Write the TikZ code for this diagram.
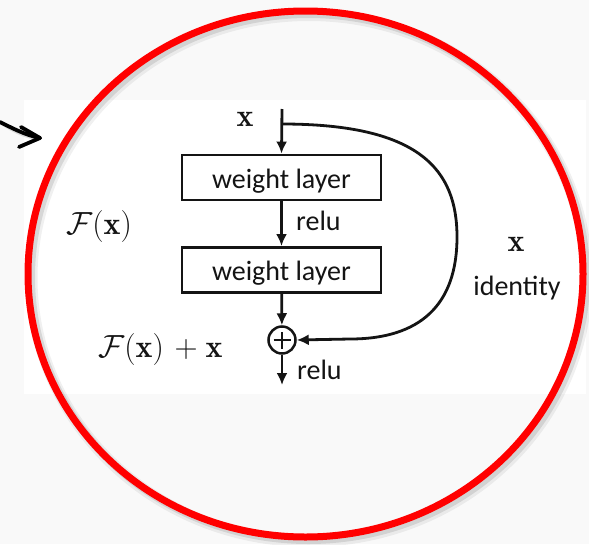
\RequirePackage{fix-cm}
\documentclass[tikz,border=0pt]{standalone}
\usepackage{fontspec}
\newfontfamily\calib{Carlito}
\usetikzlibrary{arrows.meta}
\definecolor{bggray}{RGB}{249,249,249}
\definecolor{ringred}{RGB}{255,0,0}
\definecolor{ink}{RGB}{20,20,20}
\begin{document}
\begin{tikzpicture}[x=1pt,y=-1pt,
  wbox/.style={draw=ink, line width=2.9pt, minimum width=199pt, inner xsep=0pt, inner ysep=0pt,
               text height=33pt, text depth=12pt, text=ink, font=\calib\fontsize{28}{33}\selectfont},
  sumc/.style={draw=ink, circle, line width=2.5pt, minimum size=27pt, inner sep=0pt},
  arr/.style={draw=ink, line width=2.8pt, -{Latex[length=12pt,width=11pt]}},
  sans/.style={font=\calib\fontsize{28}{33}\selectfont, text=ink, inner sep=0pt},
  mth/.style={font=\fontsize{32}{38}\selectfont, text=ink, inner sep=0pt},
  hand/.style={line width=3.8pt, line cap=round, line join=round}]
\useasboundingbox (0,0) rectangle (589,544);
\fill[bggray] (0,0) rectangle (589,544);
\fill[white] (24,100) rectangle (586,394);

% boxes and nodes
\node[wbox] (w1) at (281.5,177.5) {weight layer};
\node[wbox] (w2) at (281.5,270) {weight layer};
\coordinate (in) at (282,109);
\coordinate (br) at (282,124);
\node[sumc] (sum) at (282,340) {};
\draw[ink, line width=2.5pt] ([xshift=-8.5pt]sum.center) -- ([xshift=8.5pt]sum.center);
\draw[ink, line width=2.5pt] ([yshift=-8.5pt]sum.center) -- ([yshift=8.5pt]sum.center);
\coordinate (out) at (282,385);

\draw[arr] (in) -- (w1.north);
\draw[arr] (w1) -- (w2);
\draw[arr] (w2) -- (sum);
\draw[arr] (sum) -- (out);
\draw[arr] (br) .. controls (420,124) and (457,170) .. (457,237)
   .. controls (457,305) and (420,339) .. (350,339) -- (sum.east);

% labels
\node[mth, anchor=base] (lx) at (245,126.7) {$\mathbf{x}$};
\node[sans, anchor=base west] (r1) at (296,230) {relu};
\node[sans, anchor=base west] (r2) at (297,379) {relu};
\node[mth, anchor=base west] (fx) at (66,234) {$\mathcal{F}(\mathbf{x})$};
\node[mth, anchor=base west] (fxx) at (98,357) {$\mathcal{F}(\mathbf{x})\mskip6mu{+}\mskip4.5mu\mathbf{x}$};
\node[mth, anchor=base] (ix) at (516,251.5) {$\mathbf{x}$};
\node[sans, anchor=base] (id) at (517,295) {identity};

% ring with shadow
\draw[black, opacity=0.06, line width=12pt] (309,278) ellipse [x radius=277.5, y radius=263];
\draw[black, opacity=0.10, line width=8pt] (308.5,277) ellipse [x radius=277.5, y radius=263];
\draw[ringred, line width=7pt] (305.5,274) ellipse [x radius=277.5, y radius=263];

% hand-drawn pointer
\coordinate (a0) at (0,122);
\coordinate (a1) at (40,138);
\coordinate (b1) at (21,127);
\coordinate (b2) at (19,147);
\draw[hand, black!25, opacity=0.5, shift={(2,3)}] (a0) .. controls (12,128) and (25,135) .. (a1);
\draw[hand] (a0) .. controls (12,128) and (25,135) .. (a1);
\draw[hand] (b1) -- (a1) -- (b2);
\end{tikzpicture}
\end{document}
